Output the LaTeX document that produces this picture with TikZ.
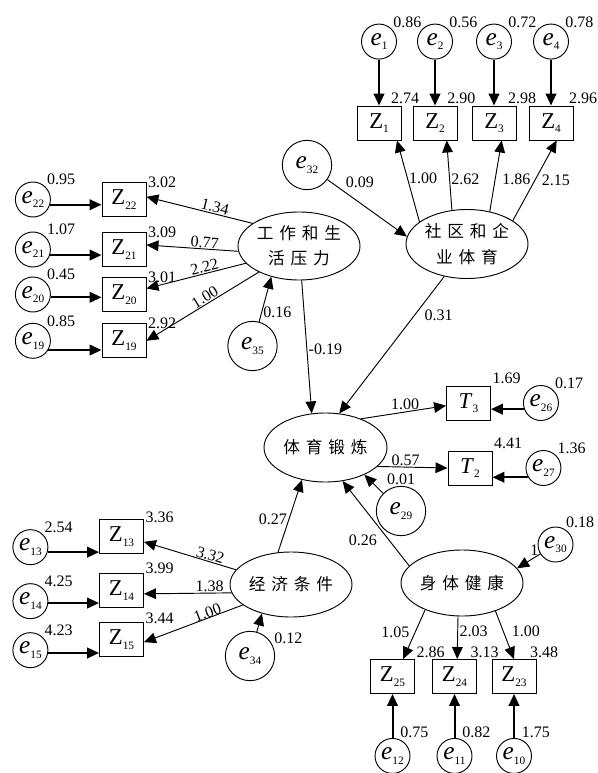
\documentclass[tikz,border=0pt]{standalone}
\usepackage{fontspec}
\setmainfont{Liberation Serif}
\newfontfamily\cjkfont[LetterSpace=35]{Noto Sans CJK SC}
\usepackage{tikz}
\usetikzlibrary{arrows.meta,positioning,shapes.geometric}
\tikzset{
  latent/.style={ellipse, draw, line width=0.7pt, inner sep=0pt, align=center,
    minimum width=91.5pt, minimum height=51pt,
    font=\cjkfont\fontsize{12.5pt}{19pt}\selectfont},
  indicator/.style={draw, line width=0.7pt, inner sep=0pt,
    minimum width=33pt, minimum height=25.5pt,
    font=\fontsize{17pt}{17pt}\selectfont},
  errsmall/.style={circle, draw, line width=0.7pt, inner sep=0pt,
    minimum size=26.25pt, font=\fontsize{19pt}{19pt}\selectfont},
  errbig/.style={errsmall, minimum size=37pt},
  numlabel/.style={inner sep=1pt, font=\fontsize{12pt}{12pt}\selectfont},
  slopelabel/.style={numlabel, inner sep=0.5pt, sloped},
  wire/.style={-{Triangle[length=9pt, width=8pt]}},
  loadwire/.style={wire, line width=0.7pt},
  residwire/.style={wire, line width=1.5pt}
}
\newcommand{\subvar}[2]{#1\raisebox{-3.5pt}{\fontsize{8.5pt}{8.5pt}\selectfont#2}}

\begin{document}
\begin{tikzpicture}[x=0.75pt, y=-0.75pt]
  \useasboundingbox (0,0) rectangle (598,773);

  % latent variables
  \node[latent, minimum height=51.75pt] (comm) at (467,244) {社区和企\\业体育};
  \node[latent] (press) at (299,246) {工作和生\\活压力};
  \node[latent, minimum width=92.25pt, minimum height=51.75pt] (pe) at (325.5,447.5) {体育锻炼};
  \node[latent, minimum height=48.75pt] (econ) at (291,584.5) {经济条件};
  \node[latent, minimum height=49.5pt] (health) at (462,583) {身体健康};

  % indicators and errors of comm
  \node[indicator, label={[numlabel, xshift=-9pt]north east:2.74}] (Z1) at (379,123) {\subvar{Z}{1}};
  \node[indicator, label={[numlabel, xshift=-8.75pt]north east:2.90}] (Z2) at (435,123) {\subvar{Z}{2}};
  \node[indicator, label={[numlabel, xshift=-7.5pt]north east:2.98}] (Z3) at (494,123) {\subvar{Z}{3}};
  \node[indicator, label={[numlabel, xshift=-4.5pt]north east:2.96}] (Z4) at (551,123) {\subvar{Z}{4}};
  \node[errsmall, above=34.5pt of Z1, label={[numlabel]45:0.86}] (e1) {\subvar{\textit{e}}{1}};
  \node[errsmall, above=34.5pt of Z2, label={[numlabel]45:0.56}] (e2) {\subvar{\textit{e}}{2}};
  \node[errsmall, above=34.5pt of Z3, label={[numlabel]45:0.72}] (e3) {\subvar{\textit{e}}{3}};
  \node[errsmall, above=34.5pt of Z4, label={[numlabel]45:0.78}] (e4) {\subvar{\textit{e}}{4}};

  % indicators and errors of press
  \node[indicator, label={[numlabel, anchor=west]north east:3.02}] (Z22) at (124,199.5) {\subvar{Z}{22}};
  \node[indicator, label={[numlabel, anchor=west]north east:3.09}] (Z21) at (124,249.5) {\subvar{Z}{21}};
  \node[indicator, label={[numlabel, anchor=west]north east:3.01}] (Z20) at (124,294.5) {\subvar{Z}{20}};
  \node[indicator, label={[numlabel, anchor=west]north east:2.92}] (Z19) at (124,340.8) {\subvar{Z}{19}};
  \node[errsmall, left=38pt of Z22, label={[numlabel]45:0.95}] (e22) {\subvar{\textit{e}}{22}};
  \node[errsmall, left=38pt of Z21, label={[numlabel]45:1.07}] (e21) {\subvar{\textit{e}}{21}};
  \node[errsmall, left=38pt of Z20, label={[numlabel]45:0.45}] (e20) {\subvar{\textit{e}}{20}};
  \node[errsmall, left=38pt of Z19, label={[numlabel]45:0.85}] (e19) {\subvar{\textit{e}}{19}};

  % indicators and errors of pe
  \node[indicator, label={[numlabel]north east:1.69}] (T3) at (468.5,403) {\subvar{\textit{T}}{3}};
  \node[indicator, label={[numlabel]north east:4.41}] (T2) at (470,468) {\subvar{\textit{T}}{2}};
  \node[errsmall, right=24pt of T3, label={[numlabel]45:0.17}] (e26) {\subvar{\textit{e}}{26}};
  \node[errsmall, right=24.75pt of T2, label={[numlabel]45:1.36}] (e27) {\subvar{\textit{e}}{27}};

  % indicators and errors of econ
  \node[indicator, label={[numlabel, anchor=west, yshift=1pt]north east:3.36}] (Z13) at (121.5,536.5) {\subvar{Z}{13}};
  \node[indicator, label={[numlabel, anchor=west, yshift=3.75pt]north east:3.99}] (Z14) at (121.5,590.5) {\subvar{Z}{14}};
  \node[indicator, label={[numlabel, anchor=west, yshift=2.5pt]north east:3.44}] (Z15) at (121.5,639.5) {\subvar{Z}{15}};
  \node[errsmall, left=38pt of Z13, yshift=-8pt, label={[numlabel]45:2.54}] (e13) {\subvar{\textit{e}}{13}};
  \node[errsmall, left=38pt of Z14, yshift=-8pt, label={[numlabel]45:4.25}] (e14) {\subvar{\textit{e}}{14}};
  \node[errsmall, left=38pt of Z15, yshift=-8pt, label={[numlabel]45:4.23}] (e15) {\subvar{\textit{e}}{15}};

  % indicators and errors of health
  \node[indicator, label={[numlabel]north east:2.86}] (Z25) at (392.5,676.5) {\subvar{Z}{25}};
  \node[indicator, label={[numlabel, xshift=-6pt]north east:3.13}] (Z24) at (454.5,676.5) {\subvar{Z}{24}};
  \node[indicator, label={[numlabel, xshift=-6pt]north east:3.48}] (Z23) at (514,676.5) {\subvar{Z}{23}};
  \node[errsmall, below=33pt of Z25, label={[numlabel, anchor=south west]70:0.75}] (e12) {\subvar{\textit{e}}{12}};
  \node[errsmall, below=33pt of Z24, label={[numlabel, anchor=south west]70:0.82}] (e11) {\subvar{\textit{e}}{11}};
  \node[errsmall, below=33pt of Z23, label={[numlabel, anchor=south west]70:1.75}] (e10) {\subvar{\textit{e}}{10}};

  % disturbances
  \node[errbig, label={[numlabel, label distance=10pt]-15:0.09}] (e32) at (307,165) {\subvar{\textit{e}}{32}};
  \node[errbig] (e35) at (252.5,346) {\subvar{\textit{e}}{35}};
  \node[errbig, label={[numlabel]above:0.01}] (e29) at (401,511) {\subvar{\textit{e}}{29}};
  \node[errbig, label={[numlabel, anchor=south west]25:0.12}] (e34) at (250,656) {\subvar{\textit{e}}{34}};
  \node[errsmall, label={[numlabel]60:0.18}] (e30) at (555.5,544.5) {\subvar{\textit{e}}{30}};

  % comm
  \draw[loadwire] (comm.155) -- node[numlabel, right, pos=0.54]{1.00} ([xshift=13.5pt]Z1.south);
  \draw[loadwire] (comm.114) -- node[numlabel, right, pos=0.44]{2.62} ([xshift=8.75pt]Z2.south);
  \draw[loadwire] (comm.55) -- node[numlabel, right=4pt, pos=0.45]{1.86} ([xshift=5.75pt]Z3.south);
  \draw[loadwire] (comm.27) -- node[numlabel, right=4pt, pos=0.5]{2.15} ([xshift=4.25pt]Z4.south);
  \draw[residwire] (e1) -- (Z1);
  \draw[residwire] (e2) -- (Z2);
  \draw[residwire] (e3) -- (Z3);
  \draw[residwire] (e4) -- (Z4);
  \draw[loadwire] (e32) -- (comm.173);

  % press
  \draw[loadwire] (press.154) -- node[slopelabel, above, pos=0.37]{1.34} ([yshift=2pt]Z22.east);
  \draw[loadwire] (press.185) -- node[slopelabel, above, pos=0.37]{0.77} ([yshift=3.4pt]Z21.east);
  \draw[loadwire] (press.198) -- node[slopelabel, above, pos=0.40]{2.22} ([yshift=4.5pt]Z20.east);
  \draw[loadwire] (press.213) -- node[slopelabel, above, pos=0.45]{1.00} (Z19.east);
  \draw[residwire] (e22.343) -- (e22.343 -| Z22.west);
  \draw[residwire] (e21.342) -- (e21.342 -| Z21.west);
  \draw[residwire] (e20.351) -- (e20.351 -| Z20.west);
  \draw[residwire] (e19.329) -- (e19.329 -| Z19.west);
  \draw[loadwire] (e35) -- node[numlabel, right, pos=0.2]{0.16} (press.228);

  % paths to pe
  \draw[loadwire] ([xshift=2pt]press.south) -- node[numlabel, right, pos=0.52]{-0.19} (pe.112);
  \draw[loadwire] (comm.235) -- node[numlabel, right=6pt, pos=0.28]{0.31} (pe.68);
  \draw[loadwire] (econ.112) -- node[numlabel, left, pos=0.45]{0.27} (pe.234);
  \draw[loadwire] (health.162) -- node[numlabel, left=8pt, pos=0.3]{0.26} (pe.297);
  \draw[loadwire] (e29) -- (pe.325);

  % pe
  \draw[loadwire] (pe.39) -- node[numlabel, above, pos=0.52]{1.00} ([yshift=-2pt]T3.west);
  \draw[loadwire] (pe.340) -- node[numlabel, above, pos=0.4]{0.57} (T2.west);
  \draw[residwire] (e26.200) -- (e26.200 -| T3.east);
  \draw[residwire] (e27.211) -- (e27.211 -| T2.east);

  % econ
  \draw[loadwire] (econ.165) -- node[slopelabel, above, pos=0.30]{3.32} ([yshift=-4pt]Z13.east);
  \draw[loadwire] (econ.188) -- node[numlabel, above, pos=0.25]{1.38} ([yshift=-2.5pt]Z14.east);
  \draw[loadwire] (econ.203) -- node[slopelabel, above=-1pt, pos=0.34]{1.00} ([yshift=-2pt]Z15.east);
  \draw[residwire] (e13.344) -- (e13.344 -| Z13.west);
  \draw[residwire] (e14.354) -- (e14.354 -| Z14.west);
  \draw[residwire] (e15.351) -- (e15.351 -| Z15.west);
  \draw[loadwire] (e34) -- (econ.225);

  % health
  \draw[loadwire] (health.216) -- node[numlabel, left=3pt, pos=0.45]{1.05} ([xshift=8pt]Z25.north);
  \draw[loadwire] ([xshift=-3pt]health.south) -- node[numlabel, right, pos=0.35]{2.03} ([xshift=2pt]Z24.north);
  \draw[loadwire] (health.320) -- node[numlabel, right=5pt, pos=0.43]{1.00} (Z23.north);
  \draw[residwire] (e12) -- (Z25);
  \draw[residwire] (e11) -- (Z24);
  \draw[residwire] (e10) -- (Z23);
  \draw[loadwire] (e30) -- node[numlabel, above, pos=0.25]{1} (health.15);
\end{tikzpicture}
\end{document}
